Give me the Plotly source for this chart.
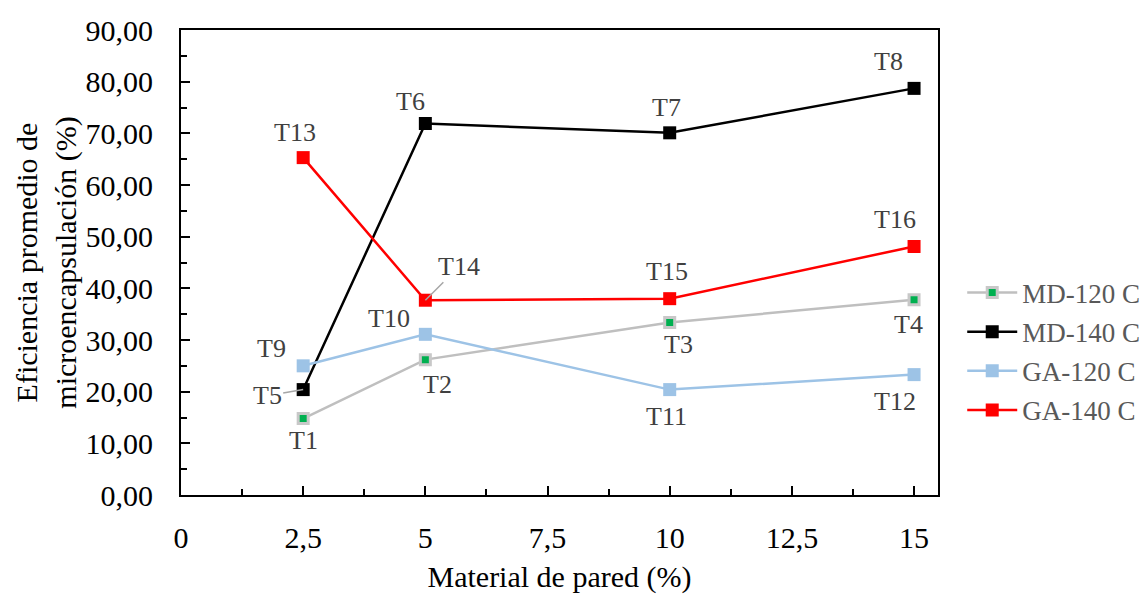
import plotly.graph_objects as go

# ---- data ----
x_vals = [2.5, 5, 10, 15]
series_names = ["MD-120 C", "MD-140 C", "GA-120 C", "GA-140 C"]
md120 = [14.8, 26.2, 33.4, 37.8]
md140 = [20.4, 71.9, 70.1, 78.7]
ga120 = [25.0, 31.1, 20.4, 23.3]
ga140 = [65.3, 37.7, 38.0, 48.1]
md120_labels = ["T1", "T2", "T3", "T4"]
md140_labels = ["T5", "T6", "T7", "T8"]
ga120_labels = ["T9", "T10", "T11", "T12"]
ga140_labels = ["T13", "T14", "T15", "T16"]
x_tickvals = [0, 2.5, 5, 7.5, 10, 12.5, 15]
x_ticktext = ["0", "2,5", "5", "7,5", "10", "12,5", "15"]

# ---- styles ----
FONT = "Liberation Serif"
styles = [
    dict(line=dict(color="#BFBFBF", width=2.5),
         marker=dict(symbol="square", size=10, color="#00B050", line=dict(color="#C8C8C8", width=3))),
    dict(line=dict(color="#000000", width=2.5),
         marker=dict(symbol="square", size=13, color="#000000")),
    dict(line=dict(color="#9DC3E6", width=2.5),
         marker=dict(symbol="square", size=13, color="#9DC3E6")),
    dict(line=dict(color="#FF0000", width=2.5),
         marker=dict(symbol="square", size=13, color="#FF0000")),
]
# label offsets (px): dx right, dy down ; arrow flag
offsets = [
    [(0, 22, False), (12, 25, False), (9, 22, False), (-6, 25, False)],
    [(-36, 6, True), (-15, -22, False), (-3, -25, False), (-26, -27, False)],
    [(-32, -17, False), (-36, -16, False), (-3, 27, False), (-19, 27, False)],
    [(-8, -25, False), (34, -34, True), (-3, -27, False), (-19, -27, False)],
]

all_vals = [md120, md140, ga120, ga140]
all_labels = [md120_labels, md140_labels, ga120_labels, ga140_labels]

fig = go.Figure()
for name, vals, st in zip(series_names, all_vals, styles):
    fig.add_trace(go.Scatter(x=x_vals, y=vals, mode="lines+markers", name=name,
                             line=st["line"], marker=st["marker"], legendgroup=name))

annotations = []
for vals, labs, offs in zip(all_vals, all_labels, offsets):
    for xv, yv, lab, (dx, dy, arrow) in zip(x_vals, vals, labs, offs):
        if arrow:
            annotations.append(dict(x=xv, y=yv, xref="x", yref="y", text=lab,
                                    showarrow=True, arrowhead=0, arrowwidth=1.5,
                                    arrowcolor="#A6A6A6", ax=dx, ay=dy, standoff=0,
                                    font=dict(family=FONT, size=26, color="#404040")))
        else:
            annotations.append(dict(x=xv, y=yv, xref="x", yref="y", text=lab,
                                    showarrow=False, xshift=dx, yshift=-dy,
                                    font=dict(family=FONT, size=26, color="#404040")))

fig.update_layout(
    width=1145, height=594,
    margin=dict(l=181, r=207, t=30, b=99, autoexpand=False),
    paper_bgcolor="white", plot_bgcolor="white",
    font=dict(family=FONT, size=30, color="black"),
    separators=",.",
    showlegend=True,
    legend=dict(x=1.032, y=0.487, xanchor="left", yanchor="top",
                font=dict(family=FONT, size=27, color="#595959"),
                bgcolor="rgba(0,0,0,0)", tracegroupgap=1, itemwidth=50),
    annotations=annotations,
)
fig.update_xaxes(
    range=[0, 15.49], tickvals=x_tickvals, ticktext=x_ticktext,
    showgrid=False, zeroline=False,
    showline=True, linecolor="black", linewidth=2, mirror=True,
    ticks="inside", ticklen=9, tickwidth=1.5, tickcolor="black",
    minor=dict(ticks="inside", dtick=1.25, tick0=0, ticklen=6, tickwidth=1.5, tickcolor="black"),
    tickfont=dict(family=FONT, size=30, color="black"),
    ticklabelstandoff=15,
    title=dict(text="Material de pared (%)", font=dict(family=FONT, size=30, color="black"), standoff=18),
)
fig.update_yaxes(
    range=[0, 90], dtick=10, tickformat=".2f",
    showgrid=False, zeroline=False,
    showline=True, linecolor="black", linewidth=2, mirror=True,
    ticks="inside", ticklen=9, tickwidth=1.5, tickcolor="black",
    minor=dict(ticks="inside", dtick=5, ticklen=6, tickwidth=1.5, tickcolor="black"),
    tickfont=dict(family=FONT, size=30, color="black"),
    ticklabelstandoff=20,
    title=dict(text="Eficiencia promedio de<br>microencapsulación (%)",
               font=dict(family=FONT, size=30, color="black"), standoff=0),
)

fig.write_html("out.html")
